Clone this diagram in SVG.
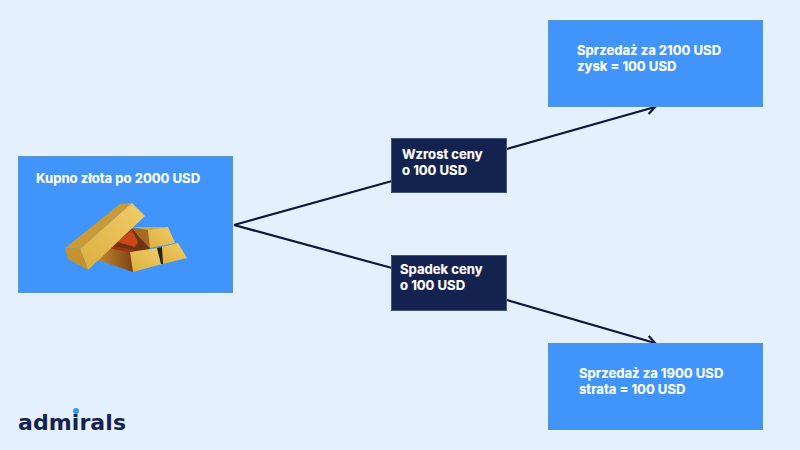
<svg xmlns="http://www.w3.org/2000/svg" width="800" height="450" viewBox="0 0 800 450">
  <defs>
    <marker id="arrow" viewBox="0 0 12 12" refX="10" refY="6" markerWidth="12" markerHeight="12" markerUnits="userSpaceOnUse" orient="auto">
      <path d="M2 1 L10 6 L2 11" fill="none" stroke="#0b1640" stroke-width="2.200"/>
    </marker>
    <linearGradient id="barFront" x1="0" y1="1" x2="1" y2="0">
      <stop offset="0" stop-color="#dcae3e"/>
      <stop offset="1" stop-color="#f0cd68"/>
    </linearGradient>
    <linearGradient id="barDark" x1="0" y1="0" x2="1" y2="0">
      <stop offset="0" stop-color="#c08a2e"/>
      <stop offset="1" stop-color="#7c4212"/>
    </linearGradient>
  </defs>
  <style>
    .light { fill: #4094fa; stroke: #5b94d4; stroke-width: 1; }
    .dark { fill: #14224f; stroke: #44557f; stroke-width: 1; }
    .label { font-family: "Inter", "Liberation Sans", sans-serif; font-weight: 700; font-size: 13.100px; fill: #ffffff; stroke: #ffffff; stroke-width: 0.150px; }
    .link { fill: none; stroke: #0b1640; stroke-width: 2.200; }
  </style>

  <rect width="800" height="450" fill="#e4f0fe"/>

  <g id="connectors">
    <path class="link" d="M234 225 L392 181"/>
    <path class="link" d="M234 225 L392 268"/>
    <path class="link" d="M507 149 L655 107" marker-end="url(#arrow)"/>
    <path class="link" d="M507 300 L655 343" marker-end="url(#arrow)"/>
  </g>

  <g id="node-buy">
    <rect class="light" x="18.500" y="156.500" width="214" height="136"/>
    <text class="label" x="36" y="183">Kupno złota po 2000 USD</text>
    <!-- stack of gold bars -->
    <g id="gold">
      <!-- shadowed interior of the stack -->
      <path d="M100 258 L117 240 L132 228 L150 248 L133 272 Z" fill="#6e3410"/>
      <path d="M117 242 L132 230 L138 242 L135 247 Z" fill="#c8481a"/>
      <path d="M108 245 L133 250 L130 252 L107 248 Z" fill="#a82f14"/>
      <!-- upper block -->
      <path d="M132 228 L148 230 L150 248 L140 238 Z" fill="#a86a1c"/>
      <path d="M132 227 L168 227 L148 230 Z" fill="#d6a844"/>
      <path d="M148 230 L168 227 L175 243 L150 248 Z" fill="url(#barFront)"/>
      <!-- lower front block -->
      <path d="M107 248 L130 252 L133 272 L98 260 Z" fill="url(#barDark)"/>
      <path d="M130 252 L157 248 L162 264 L133 272 Z" fill="url(#barFront)"/>
      <!-- lower right block -->
      <path d="M157 248 L178 243 L187 258 L163 264 Z" fill="url(#barFront)"/>
      <path d="M157 248 L162 247 L163 264 L161 264 Z" fill="#26201a"/>
      <!-- leaning bar on top -->
      <path d="M65 248 L120 204 L132 203 L80 249 Z" fill="#c99a38"/>
      <path d="M80 249 L132 203 L145 216 L88 270 Z" fill="url(#barFront)"/>
      <path d="M65 248 L80 249 L88 270 L68 259 Z" fill="#c4922e"/>
    </g>
  </g>

  <g id="node-rise">
    <rect class="dark" x="391.500" y="138.500" width="115" height="54"/>
    <text class="label" x="402" y="159">Wzrost ceny</text>
    <text class="label" x="402" y="175">o 100 USD</text>
  </g>

  <g id="node-fall">
    <rect class="dark" x="391.500" y="255.500" width="115" height="55"/>
    <text class="label" x="400" y="274">Spadek ceny</text>
    <text class="label" x="400" y="290">o 100 USD</text>
  </g>

  <g id="node-sell-high">
    <rect class="light" x="548.500" y="20.500" width="214" height="86"/>
    <text class="label" x="577" y="55">Sprzedaż za 2100 USD</text>
    <text class="label" x="577" y="71">zysk = 100 USD</text>
  </g>

  <g id="node-sell-low">
    <rect class="light" x="548.500" y="343.500" width="214" height="86"/>
    <text class="label" x="579" y="378">Sprzedaż za 1900 USD</text>
    <text class="label" x="579" y="394">strata = 100 USD</text>
  </g>

  <g id="brand">
    <text x="18" y="430" font-family="'DejaVu Sans', sans-serif" font-weight="700" font-size="22" textLength="108" lengthAdjust="spacing" fill="#14224f">admirals</text>
    <circle cx="76" cy="411" r="3" fill="#2f9be8"/>
  </g>
</svg>
